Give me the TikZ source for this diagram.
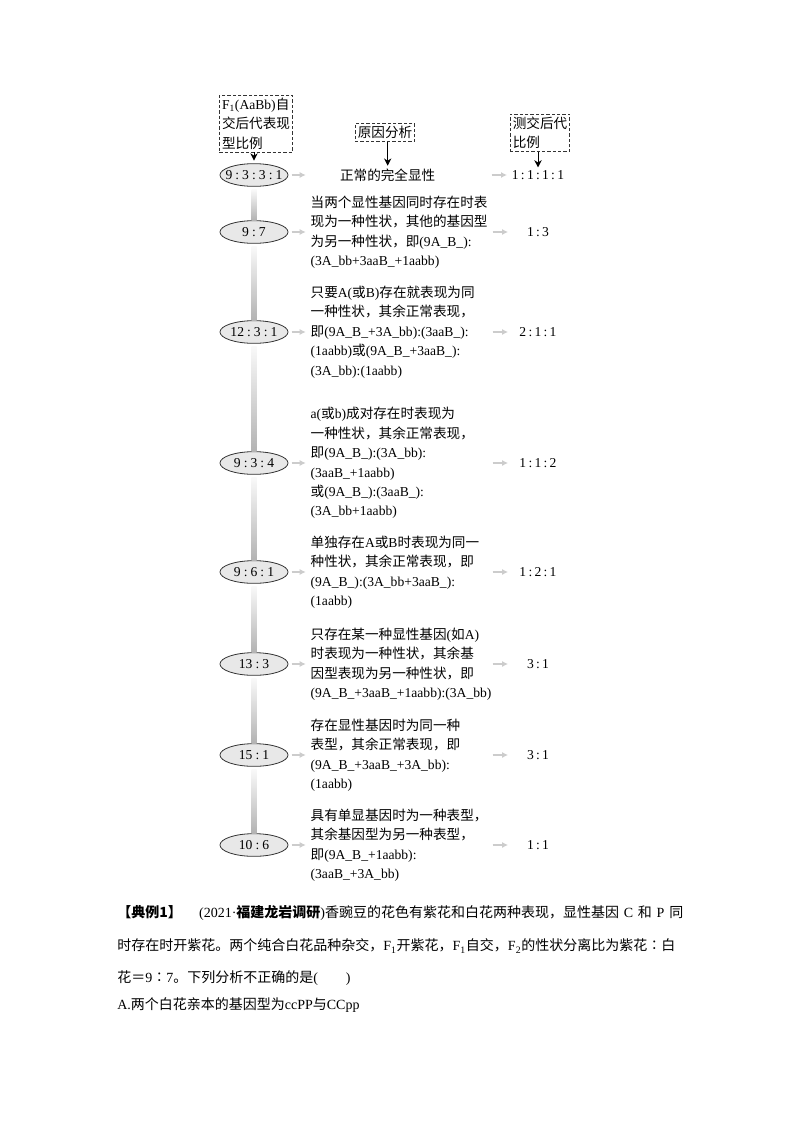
\documentclass[tikz,border=0pt]{standalone}
\usepackage{fontspec}
\setmainfont{Liberation Serif}
\newfontfamily\cjk{Noto Sans CJK SC}
\newcommand\zh[1]{{\cjk #1}}
\newcommand\rc{\kern2.3pt:\kern2.3pt}
\newcommand\bodyfont{\fontsize{10.5}{14}\selectfont
  \XeTeXlinebreaklocale "zh"\XeTeXlinebreakskip=0pt plus 1pt\relax}
\usetikzlibrary{positioning,calc,shapes.geometric,arrows.meta}

\begin{document}
\begin{tikzpicture}[x=0.75pt,y=-0.75pt,
    font=\fontsize{10.2}{14.6}\selectfont,
    ratio/.style={ellipse, draw=black!80, fill=gray!18, line width=0.6pt,
      minimum width=51pt, minimum height=17pt, inner xsep=-3.5pt, inner ysep=0pt},
    hint/.style={draw=black!80, dash pattern=on 2.5pt off 1.5pt, line width=0.6pt,
      align=left, inner sep=2pt},
    desc/.style={align=left, inner sep=0pt},
    res/.style={minimum width=37.5pt, inner sep=0pt},
    garrow/.style={-{Latex[length=4.5pt,width=4.5pt]}, draw=gray!40, line width=1.4pt},
    harrow/.style={-{Stealth[length=5.5pt,width=5.5pt]}, line width=0.7pt, shorten >=2pt},
    para/.style={anchor=west, inner sep=0pt, font=\bodyfont}]

  \path[fill=white] (0,0) rectangle (800,1132);

  % headers
  \node[hint] (h1) at (256,123.5) {F\textsubscript{1}(AaBb)\zh{自}\\\zh{交后代表现}\\\zh{型比例}};
  \node[hint] (h2) at (385,132.5) {\zh{原因分析}};
  \node[hint] (h3) at (540,133) {\zh{测交后代}\\\zh{比例}};

  % ratios of F2
  \node[ratio] (e1) at (254,175) {9\rc3\rc3\rc1};
  \node[ratio] (e2) at (254,232) {9\rc7};
  \node[ratio] (e3) at (254,332) {12\rc3\rc1};
  \node[ratio] (e4) at (254,463) {9\rc3\rc4};
  \node[ratio] (e5) at (254,572) {9\rc6\rc1};
  \node[ratio] (e6) at (254,664) {13\rc3};
  \node[ratio] (e7) at (254,755) {15\rc1};
  \node[ratio] (e8) at (254,845) {10\rc6};

  \shade[top color=gray!5, bottom color=gray!60] ($(e1.south)+(-2.5,3)$) rectangle ($(e2.north)+(2.5,0)$);
  \shade[top color=gray!5, bottom color=gray!60] ($(e2.south)+(-2.5,3)$) rectangle ($(e3.north)+(2.5,0)$);
  \shade[top color=gray!5, bottom color=gray!60] ($(e3.south)+(-2.5,3)$) rectangle ($(e4.north)+(2.5,0)$);
  \shade[top color=gray!5, bottom color=gray!60] ($(e4.south)+(-2.5,3)$) rectangle ($(e5.north)+(2.5,0)$);
  \shade[top color=gray!5, bottom color=gray!60] ($(e5.south)+(-2.5,3)$) rectangle ($(e6.north)+(2.5,0)$);
  \shade[top color=gray!5, bottom color=gray!60] ($(e6.south)+(-2.5,3)$) rectangle ($(e7.north)+(2.5,0)$);
  \shade[top color=gray!5, bottom color=gray!60] ($(e7.south)+(-2.5,3)$) rectangle ($(e8.north)+(2.5,0)$);

  % reasons
  \node[desc, right=16.5pt of e1, text width=115.5pt, align=center] (t1) {\zh{正常的完全显性}};
  \node[desc, right=16.5pt of e2] (t2) {\zh{当两个显性基因同时存在时表}\\
    \zh{现为一种性状，其他的基因型}\\
    \zh{为另一种性状，即}(9A\_B\_):\\
    (3A\_bb+3aaB\_+1aabb)};
  \node[desc, right=16.5pt of e3] (t3) {\zh{只要}A(\zh{或}B)\zh{存在就表现为同}\\
    \zh{一种性状，其余正常表现，}\\
    \zh{即}(9A\_B\_+3A\_bb):(3aaB\_):\\
    (1aabb)\zh{或}(9A\_B\_+3aaB\_):\\
    (3A\_bb):(1aabb)};
  \node[desc, right=16.5pt of e4] (t4) {a(\zh{或}b)\zh{成对存在时表现为}\\
    \zh{一种性状，其余正常表现，}\\
    \zh{即}(9A\_B\_):(3A\_bb):\\
    (3aaB\_+1aabb)\\
    \zh{或}(9A\_B\_):(3aaB\_):\\
    (3A\_bb+1aabb)};
  \node[desc, right=16.5pt of e5] (t5) {\zh{单独存在}A\zh{或}B\zh{时表现为同一}\\
    \zh{种性状，其余正常表现，即}\\
    (9A\_B\_):(3A\_bb+3aaB\_):\\
    (1aabb)};
  \node[desc, right=16.5pt of e6] (t6) {\zh{只存在某一种显性基因}(\zh{如}A)\\
    \zh{时表现为一种性状，其余基}\\
    \zh{因型表现为另一种性状，即}\\
    (9A\_B\_+3aaB\_+1aabb):(3A\_bb)};
  \node[desc, right=16.5pt of e7] (t7) {\zh{存在显性基因时为同一种}\\
    \zh{表型，其余正常表现，即}\\
    (9A\_B\_+3aaB\_+3A\_bb):\\
    (1aabb)};
  \node[desc, right=16.5pt of e8] (t8) {\zh{具有单显基因时为一种表型，}\\
    \zh{其余基因型为另一种表型，}\\
    \zh{即}(9A\_B\_+1aabb):\\
    (3aaB\_+3A\_bb)};

  % test cross ratios
  \node[res] (r1) at (538,175) {1\,:\,1\,:\,1\,:\,1};
  \node[res] (r2) at (538,232) {1\,:\,3};
  \node[res] (r3) at (538,332) {2\,:\,1\,:\,1};
  \node[res] (r4) at (538,463) {1\,:\,1\,:\,2};
  \node[res] (r5) at (538,572) {1\,:\,2\,:\,1};
  \node[res] (r6) at (538,664) {3\,:\,1};
  \node[res] (r7) at (538,755) {3\,:\,1};
  \node[res] (r8) at (538,845) {1\,:\,1};

  \draw[harrow] (h1.south -| e1) -- (e1.north);
  \draw[harrow] (h2.south -| t1) -- (t1.north);
  \draw[harrow] (h3.south -| r1) -- (r1.north);

  \draw[garrow] ([xshift=2.5pt]e1.east) -- ([xshift=-3.5pt]t1.west);
  \draw[garrow] ([xshift=2.5pt]e2.east) -- ([xshift=-3.5pt]t2.west);
  \draw[garrow] ([xshift=2.5pt]e3.east) -- ([xshift=-3.5pt]t3.west);
  \draw[garrow] ([xshift=2.5pt]e4.east) -- ([xshift=-3.5pt]t4.west);
  \draw[garrow] ([xshift=2.5pt]e5.east) -- ([xshift=-3.5pt]t5.west);
  \draw[garrow] ([xshift=2.5pt]e6.east) -- ([xshift=-3.5pt]t6.west);
  \draw[garrow] ([xshift=2.5pt]e7.east) -- ([xshift=-3.5pt]t7.west);
  \draw[garrow] ([xshift=2.5pt]e8.east) -- ([xshift=-3.5pt]t8.west);

  \draw[garrow] ([xshift=-15pt]r1.west) -- ([xshift=-3.5pt]r1.west);
  \draw[garrow] ([xshift=-15pt]r2.west) -- ([xshift=-3.5pt]r2.west);
  \draw[garrow] ([xshift=-15pt]r3.west) -- ([xshift=-3.5pt]r3.west);
  \draw[garrow] ([xshift=-15pt]r4.west) -- ([xshift=-3.5pt]r4.west);
  \draw[garrow] ([xshift=-15pt]r5.west) -- ([xshift=-3.5pt]r5.west);
  \draw[garrow] ([xshift=-15pt]r6.west) -- ([xshift=-3.5pt]r6.west);
  \draw[garrow] ([xshift=-15pt]r7.west) -- ([xshift=-3.5pt]r7.west);
  \draw[garrow] ([xshift=-15pt]r8.west) -- ([xshift=-3.5pt]r8.west);

  % example text
  \node[para] (p1) at (117,913) {\hbox to 424.5pt{{\cjk\bfseries 【典例1】}\hspace{13pt}(2021·{\cjk\bfseries 福建龙岩调研})\zh{香豌豆的花色有紫花和白花两种表现，显性基因} C \zh{和} P \zh{同}}};
  \node[para] (p2) at (117,946) {\hbox to 424.5pt{\zh{时存在时开紫花。两个纯合白花品种杂交，}F\textsubscript{1}\zh{开紫花，}F\textsubscript{1}\zh{自交，}F\textsubscript{2}\zh{的性状分离比为紫花∶白}}};
  \node[para] (p3) at (117,978) {\zh{花＝}9\zh{∶}7\zh{。下列分析不正确的是}(\hspace{2em})};
  \node[para] (p4) at (117,1005) {A.\zh{两个白花亲本的基因型为}ccPP\zh{与}CCpp};
\end{tikzpicture}
\end{document}
